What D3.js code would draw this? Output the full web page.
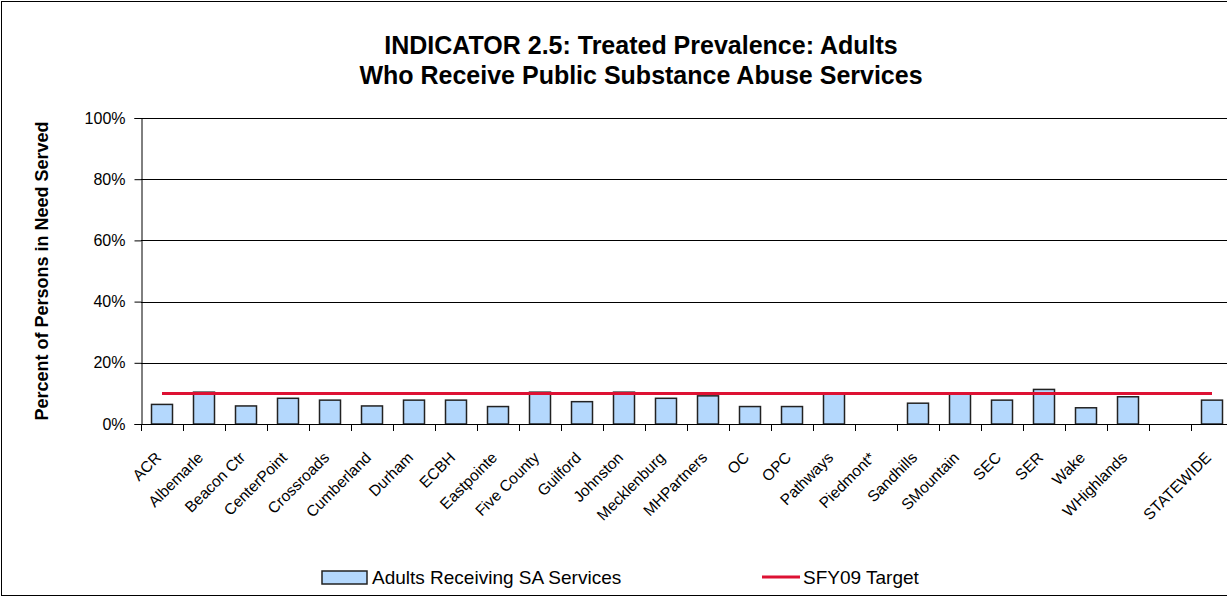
<!DOCTYPE html>
<html><head><meta charset="utf-8">
<script src="https://cdn.jsdelivr.net/npm/d3@7"></script>
<style>body{margin:0;background:#fff;} svg{display:block;font-family:"Liberation Sans",Arial,sans-serif;}</style>
</head><body>
<svg id="chart" width="1227" height="598"></svg>
<script>
const categories = ["ACR","Albemarle","Beacon Ctr","CenterPoint","Crossroads","Cumberland","Durham","ECBH","Eastpointe","Five County","Guilford","Johnston","Mecklenburg","MHPartners","OC","OPC","Pathways","Piedmont*","Sandhills","SMountain","SEC","SER","Wake","WHighlands","","STATEWIDE"];
const adultsSA = [6.4,10.4,5.9,8.4,7.8,5.9,7.8,7.8,5.7,10.4,7.3,10.4,8.4,9.2,5.7,5.7,9.9,null,6.8,9.9,7.8,11.3,5.3,8.9,null,7.8];
const target = [10,10,10,10,10,10,10,10,10,10,10,10,10,10,10,10,10,10,10,10,10,10,10,10,10,10];
const yTicks = [0,20,40,60,80,100];
const titleLines = ["INDICATOR 2.5: Treated Prevalence: Adults","Who Receive Public Substance Abuse Services"];
const yTitle = "Percent of Persons in Need Served";
const legendLabels = ["Adults Receiving SA Services","SFY09 Target"];

const svg = d3.select("#chart");
const pL = 141, pR = 1233, pT = 118, pB = 424;
const keys = categories.map((c,i)=>i);
const x = d3.scaleBand().domain(keys).range([pL,pR]).paddingInner(0.5).paddingOuter(0.25);
const y = d3.scaleLinear().domain([0,100]).range([pB,pT]);
const FONT = "Liberation Sans, Arial, sans-serif";

// outer border
svg.append("rect").attr("x",1.5).attr("y",1.5).attr("width",1260).attr("height",594)
  .attr("fill","none").attr("stroke","#000").attr("stroke-width",1);

// title
titleLines.forEach((t,i)=>{
  svg.append("text").attr("x",641).attr("y",54+i*30).attr("text-anchor","middle")
    .attr("font-weight","bold").attr("font-size",25).text(t);
});

// gridlines
svg.append("g").selectAll("line").data(yTicks.filter(d=>d>0)).join("line")
  .attr("x1",pL).attr("x2",1240).attr("y1",d=>Math.round(y(d))+0.5).attr("y2",d=>Math.round(y(d))+0.5)
  .attr("stroke","#000").attr("stroke-width",1);

// y axis
const yAxis = d3.axisLeft(y).tickValues(yTicks).tickFormat(d=>d+"%").tickSize(7).tickPadding(9);
const gy = svg.append("g").attr("transform",`translate(${pL+0.5},0)`).call(yAxis);
gy.select(".domain").attr("stroke","#000");
gy.selectAll("text").attr("font-size",16).attr("fill","#000").attr("font-family",FONT);

// y title
svg.append("text").attr("transform",`translate(48,${(pT+pB)/2}) rotate(-90)`)
  .attr("text-anchor","middle").attr("font-weight","bold").attr("font-size",18).text(yTitle);

// bars
svg.append("g").selectAll("rect").data(keys.filter(i=>adultsSA[i]!=null)).join("rect")
  .attr("x",i=>x(i)).attr("width",x.bandwidth())
  .attr("y",i=>y(adultsSA[i])).attr("height",i=>y(0)-y(adultsSA[i]))
  .attr("fill","#b4d8fd").attr("stroke","#222").attr("stroke-width",1.5);

// x axis
const xAxis = d3.axisBottom(x).tickFormat(i=>categories[i]).tickSize(0);
const gx = svg.append("g").attr("transform",`translate(0,${pB+0.5})`).call(xAxis);
gx.select(".domain").attr("stroke","#000").attr("d",`M${pL},0H1240`);
gx.selectAll("text").attr("font-size",15.5).attr("fill","#000")
  .attr("font-family",FONT)
  .attr("text-anchor","end").attr("dy",0)
  .attr("transform","translate(-2,32) rotate(-45)");
// category boundary ticks
const step = x.step();
svg.append("g").selectAll("line").data(d3.range(categories.length+1)).join("line")
  .attr("x1",i=>Math.round(pL+i*step)+0.5).attr("x2",i=>Math.round(pL+i*step)+0.5)
  .attr("y1",pB).attr("y2",pB+7).attr("stroke","#000");

// target line
const line = d3.line().x(i=>x(i)+x.bandwidth()/2).y(i=>y(target[i]));
svg.append("path").datum(keys).attr("d",line).attr("fill","none")
  .attr("stroke","#dd1133").attr("stroke-width",3);

// legend
const ly = 577;
svg.append("rect").attr("x",322).attr("y",ly-6).attr("width",45).attr("height",13)
  .attr("fill","#b4d8fd").attr("stroke","#222").attr("stroke-width",1.5);
svg.append("text").attr("x",372).attr("y",ly+7).attr("font-size",19).text(legendLabels[0]);
svg.append("line").attr("x1",762).attr("x2",800).attr("y1",ly).attr("y2",ly)
  .attr("stroke","#dd1133").attr("stroke-width",3);
svg.append("text").attr("x",803).attr("y",ly+7).attr("font-size",19).text(legendLabels[1]);
</script>
</body></html>
